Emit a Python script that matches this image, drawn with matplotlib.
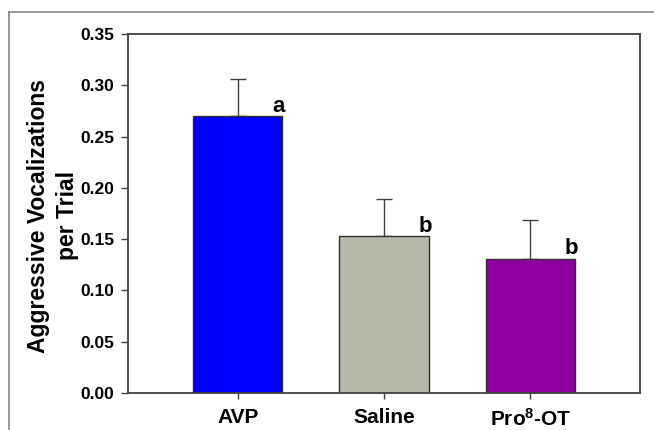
import matplotlib
matplotlib.use("Agg")
import matplotlib.pyplot as plt
from matplotlib.lines import Line2D

categories = ["AVP", "Saline", "Pro$^{8}$-OT"]
means = [0.270, 0.153, 0.131]
sems = [0.036, 0.036, 0.038]
letters = ["a", "b", "b"]
colors = ["#0000FF", "#B8B8AC", "#9000A0"]
yticks = [0.00, 0.05, 0.10, 0.15, 0.20, 0.25, 0.30, 0.35]

plt.rcParams['font.family'] = ['Liberation Sans', 'DejaVu Sans']
plt.rcParams['mathtext.fontset'] = 'custom'
plt.rcParams['mathtext.rm'] = 'Liberation Sans:bold'
plt.rcParams['mathtext.it'] = 'Liberation Sans:bold'
plt.rcParams['mathtext.bf'] = 'Liberation Sans:bold'

W, H = 654, 430
fig = plt.figure(figsize=(W / 100, H / 100), dpi=100)
ax = fig.add_axes([128 / W, (H - 393) / H, (640 - 128) / W, (393 - 34) / H])

x = [1, 2, 3]
spine_c = "#404040"
ax.bar(x, means, width=0.61, color=colors, edgecolor="#303030", linewidth=1.0, zorder=2)
ax.errorbar(x, means, yerr=[[0, 0, 0], sems], fmt="none", ecolor="#404040",
            elinewidth=1.0, capsize=5.5, capthick=1.0, zorder=1)

for xi, m, s, lt in zip(x, means, sems, letters):
    ax.annotate(lt, xy=(xi + 0.28, m), xytext=(0, 3), textcoords="offset points",
                ha="center", va="baseline", fontsize=16, fontweight="bold")

ax.set_xlim(0.25, 3.75)
ax.set_ylim(0, 0.35)
ax.set_yticks(yticks)
ax.set_yticklabels([f"{v:.2f}" for v in yticks])
ax.set_xticks(x)
ax.set_xticklabels(categories)

for sp in ax.spines.values():
    sp.set_color(spine_c)
    sp.set_linewidth(1.3)

ax.tick_params(axis="y", direction="out", length=5, width=1.0, color=spine_c,
               labelsize=12.5, pad=5)
ax.tick_params(axis="x", direction="out", length=4, width=1.0, color=spine_c,
               labelsize=15, pad=7)
for lab in ax.get_yticklabels() + ax.get_xticklabels():
    lab.set_fontweight("bold")

fig.text(53 / W, 1 - 216 / H, "Aggressive Vocalizations\nper Trial", rotation=90,
         ha="center", va="center", multialignment="center",
         fontsize=16.5, fontweight="bold", linespacing=1.3)

# outer frame (top and left)
fig.add_artist(Line2D([9 / W, 1], [1 - 11.7 / H, 1 - 11.7 / H], transform=fig.transFigure,
                      color="#888888", linewidth=1.2))
fig.add_artist(Line2D([9 / W, 9 / W], [0, 1 - 11.7 / H], transform=fig.transFigure,
                      color="#888888", linewidth=1.2))

fig.savefig("out.png", dpi=100)
